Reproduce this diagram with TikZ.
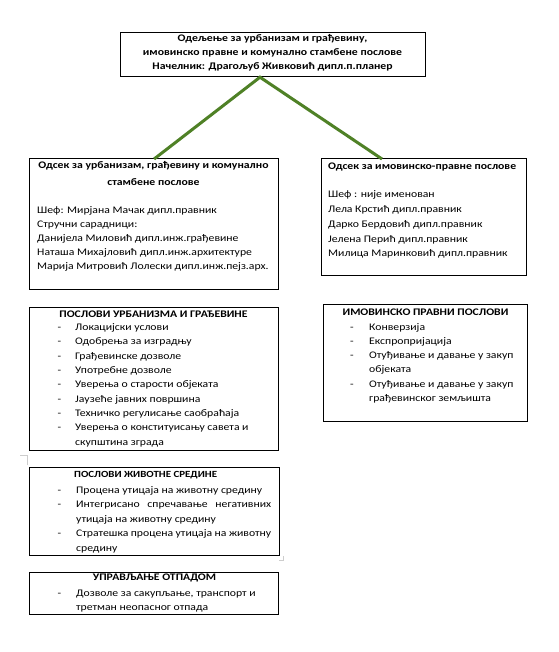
\documentclass[tikz,border=0pt]{standalone}
\usepackage{fontspec}
\setmainfont{Carlito}[FakeStretch=1.16]
\usetikzlibrary{calc}
\definecolor{lgreen}{RGB}{79,129,38}
\definecolor{markgray}{RGB}{205,205,205}
\newcommand{\fsz}{\fontsize{10.1}{13}\selectfont}
\newcommand{\fszs}{\fontsize{9.4}{13}\selectfont}
\begin{document}
\begin{tikzpicture}[x=1pt,y=-1pt,
  box/.style={draw=black,line width=1.2pt,inner sep=0pt,anchor=north west},
  txt/.style={inner sep=0pt,anchor=base west,font=\fsz},
  ttl/.style={inner sep=0pt,anchor=base,font=\fsz\bfseries},
  ttlw/.style={inner sep=0pt,anchor=base west,font=\fsz\bfseries},
  conn/.style={draw=lgreen,line width=3pt},
  faintmark/.style={draw=markgray,line width=0.6pt}]
\useasboundingbox (0,0) rectangle (558,652);
\fill[white] (0,0) rectangle (558,652);

% boxes
\node[box,minimum width=305pt,minimum height=44pt] (top) at (120,32) {};
\node[box,minimum width=249pt,minimum height=131pt] (b1) at (29,158) {};
\node[box,minimum width=205pt,minimum height=117pt] (b2) at (321,158) {};
\node[box,minimum width=249pt,minimum height=143pt] (b4) at (29,307) {};
\node[box,minimum width=204pt,minimum height=117pt] (b5) at (323,304) {};
\node[box,minimum width=250pt,minimum height=88pt] (b6) at (29,467) {};
\node[box,minimum width=249pt,minimum height=42pt] (b7) at (29,572) {};

% connectors
\coordinate (apex) at ($(top.south west)+(140,0)$);
\coordinate (rend) at ($(b2.north west)+(61,1)$);
\coordinate (lend) at ($(b1.north)+(0,1)$);
\draw[conn] (lend) -- (apex) -- (rend);

% top box text
\node[ttl] (t1) at (272.5,41.3) {Одељење за урбанизам и грађевину,};
\node[ttl] (t2) at (272.5,55.5) {имовинско правне и комунално стамбене послове};
\node[ttl] (t3) at (272.5,69.5) {Начелник: Драгољуб Живковић дипл.п.планер};

% box 1
\node[ttl] (b1t1) at (153.5,169) {Одсек за урбанизам, грађевину и комунално};
\node[ttl] (b1t2) at (153.5,185.3) {стамбене послове};
\foreach \t [count=\i] in {Шеф: Мирјана Мачак дипл.правник, Стручни сарадници:, Данијела Миловић дипл.инж.грађевине, Наташа Михајловић дипл.инж.архитектуре, Марија Митровић Лолески дипл.инж.пејз.арх.}
  \node[txt] (b1l\i) at (37,{214+13.9*(\i-1)}) {\t};

% box 2
\node[ttlw] (b2t) at (328,169.7) {Одсек за имовинско-правне послове};
\foreach \t [count=\i] in {Шеф : није именован, Лела Крстић дипл.правник, Дарко Бердовић дипл.правник, Јелена Перић дипл.правник, Милица Маринковић дипл.правник}
  \node[txt] (b2l\i) at (328,{198+14.7*(\i-1)}) {\t};

% box 4
\node[ttl] (b4t) at (153.5,317.3) {ПОСЛОВИ УРБАНИЗМА И ГРАЂЕВИНЕ};
\foreach \t [count=\i] in {Локацијски услови, Одобрења за изградњу, Грађевинске дозволе, Употребне дозволе, Уверења о старости објеката, Јаузеће јавних површина, Техничко регулисање саобраћаја, Уверења о конституисању савета и, скупштина зграда}
  \node[txt] (b4l\i) at (75,{330.5+14.35*(\i-1)}) {\t};
\foreach \i in {1,...,8}
  \node[txt] (b4d\i) at (57.5,{330.5+14.35*(\i-1)}) {-};

% box 5
\node[ttl] (b5t) at (425.5,315.5) {ИМОВИНСКО ПРАВНИ ПОСЛОВИ};
\foreach \t [count=\i] in {Конверзија, Експропријација, Отуђивање и давање у закуп, објеката, Отуђивање и давање у закуп, грађевинског земљишта}
  \node[txt] (b5l\i) at (369,{330.3+14.2*(\i-1)}) {\t};
\foreach \i in {1,2,3,5}
  \node[txt] (b5d\i) at (350,{330.3+14.2*(\i-1)}) {-};

% box 6
\node[ttlw,font=\fszs\bfseries] (b6t) at (74,477.5) {ПОСЛОВИ ЖИВОТНЕ СРЕДИНЕ};
\node[txt] (b6l1) at (76,493) {Процена утицаја на животну средину};
\node[txt] (b6l2) at (76,507.6) {\makebox[195pt][s]{Интегрисано спречавање негативних}};
\node[txt] (b6l3) at (76,522.2) {утицаја на животну средину};
\node[txt] (b6l4) at (76,536.8) {\makebox[195pt][s]{Стратешка процена утицаја на животну}};
\node[txt] (b6l5) at (76,551.4) {средину};
\foreach \i in {1,2,4}
  \node[txt] (b6d\i) at (57.5,{493+14.6*(\i-1)}) {-};

% box 7
\node[ttl] (b7t) at (154.5,580.5) {УПРАВЉАЊЕ ОТПАДОМ};
\node[txt] (b7l1) at (76,596) {Дозволе за сакупљање, транспорт и};
\node[txt] (b7l2) at (76,610) {третман неопасног отпада};
\node[txt] (b7d1) at (57.5,596) {-};

% faint layout marks
\draw[faintmark] (20,455.5) -- (27.5,455.5) -- (27.5,465);
\draw[faintmark] (279,560) -- (283.5,560) -- (283.5,555.5);
\end{tikzpicture}
\end{document}
